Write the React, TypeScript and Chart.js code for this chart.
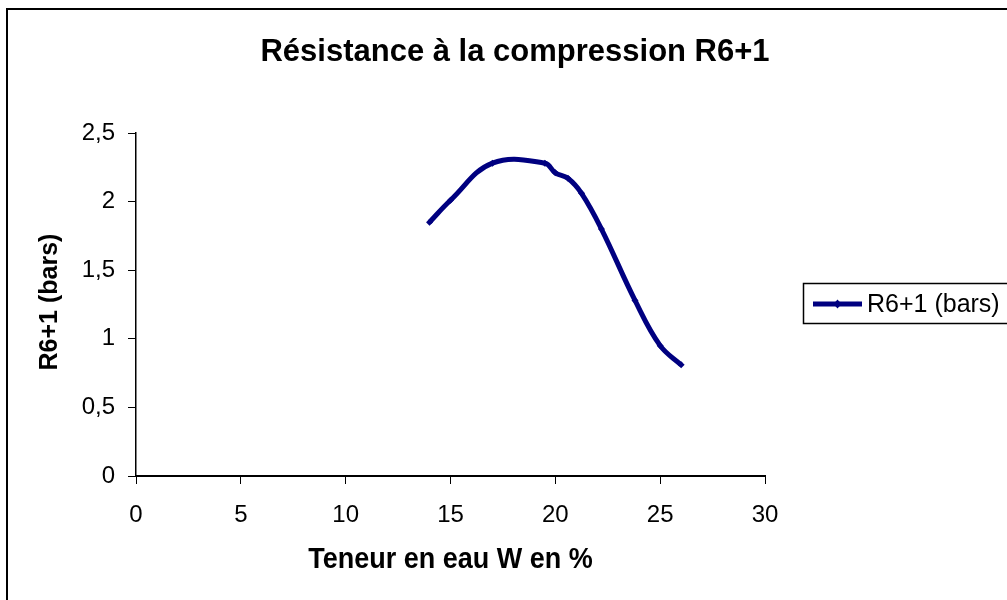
import React, { useEffect, useRef } from "react";
import { Chart, registerables } from "chart.js";

Chart.register(...registerables);

const waterContent = [14, 15, 17, 19.5, 20, 20.6, 21.25, 22.2, 23.8, 25, 26];
const strength = [1.85, 2.01, 2.28, 2.28, 2.21, 2.17, 2.06, 1.8, 1.28, 0.95, 0.81];
const xTicks = [0, 5, 10, 15, 20, 25, 30];
const yTickLabels = ["0", "0,5", "1", "1,5", "2", "2,5"];
const seriesLabel = "R6+1 (bars)";
const chartTitle = "Résistance à la compression R6+1";
const xTitle = "Teneur en eau W en %";
const yTitle = "R6+1 (bars)";

const FONT = "'Liberation Sans', Arial, sans-serif";
const NAVY = "#000080";

const decorations = {
  id: "decorations",
  afterDraw(chart: any) {
    const ctx = chart.ctx;
    const area = chart.chartArea;
    ctx.save();
    // outer frame (only top/left edges are inside the picture)
    ctx.strokeStyle = "#000";
    ctx.lineWidth = 2;
    ctx.beginPath();
    ctx.moveTo(7, 620);
    ctx.lineTo(7, 9);
    ctx.lineTo(1030, 9);
    ctx.stroke();

    // title
    ctx.fillStyle = "#000";
    ctx.textAlign = "center";
    ctx.textBaseline = "alphabetic";
    ctx.font = `bold 31px ${FONT}`;
    ctx.fillText(chartTitle, 515, 61);

    // x title
    ctx.save();
    ctx.font = `bold 27px ${FONT}`;
    ctx.translate((area.left + area.right) / 2, 568);
    ctx.scale(1, 1.1);
    ctx.fillText(xTitle, 0, 0);
    ctx.restore();

    // y title
    ctx.save();
    ctx.textBaseline = "middle";
    ctx.font = `bold 25px ${FONT}`;
    ctx.translate(50, 302);
    ctx.rotate(-Math.PI / 2);
    ctx.fillText(yTitle, 0, 0);
    ctx.restore();

    // legend
    ctx.lineWidth = 1.5;
    ctx.strokeStyle = "#000";
    ctx.strokeRect(803.5, 283.5, 240, 40);
    ctx.strokeStyle = NAVY;
    ctx.lineWidth = 5;
    ctx.beginPath();
    ctx.moveTo(813, 304);
    ctx.lineTo(862, 304);
    ctx.stroke();
    ctx.fillStyle = NAVY;
    ctx.beginPath();
    ctx.moveTo(837.5, 299.5);
    ctx.lineTo(841.5, 304);
    ctx.lineTo(837.5, 308.5);
    ctx.lineTo(833.5, 304);
    ctx.closePath();
    ctx.fill();
    ctx.fillStyle = "#000";
    ctx.textAlign = "left";
    ctx.textBaseline = "middle";
    ctx.font = `25px ${FONT}`;
    ctx.fillText(seriesLabel, 867, 305);
    ctx.restore();
  },
};

export default function App() {
  const ref = useRef<HTMLCanvasElement>(null);
  useEffect(() => {
    if (!ref.current) return;
    const chart = new Chart(ref.current, {
      type: "line",
      data: {
        datasets: [
          {
            label: seriesLabel,
            data: waterContent.map((x, i) => ({ x, y: strength[i] })),
            borderColor: NAVY,
            backgroundColor: NAVY,
            borderWidth: 5,
            tension: 0.4,
            pointStyle: "rectRot",
            pointRadius: 3.5,
            pointBorderWidth: 0,
            fill: false,
          },
        ],
      },
      plugins: [decorations],
      options: {
        animation: false,
        responsive: false,
        devicePixelRatio: 1,
        layout: { padding: { left: 0, top: 133, right: 242, bottom: 0 } },
        plugins: {
          legend: { display: false },
          title: { display: false },
          tooltip: { enabled: false },
        },
        scales: {
          x: {
            type: "linear",
            min: xTicks[0],
            max: xTicks[xTicks.length - 1],
            afterBuildTicks: (s: any) => {
              s.ticks = xTicks.map((v) => ({ value: v }));
            },
            ticks: {
              color: "#000",
              font: { family: FONT, size: 24 },
              padding: 17,
              maxRotation: 0,
              autoSkip: false,
            },
            grid: {
              display: true,
              drawOnChartArea: false,
              drawTicks: true,
              tickLength: 8,
              color: "#000",
              lineWidth: 1,
            },
            border: { display: true, color: "#000", width: 2 },
            afterFit: (s: any) => {
              s.height = 124;
            },
          },
          y: {
            type: "linear",
            min: 0,
            max: 2.5,
            ticks: {
              stepSize: 0.5,
              color: "#000",
              font: { family: FONT, size: 24 },
              padding: 13,
              autoSkip: false,
              callback: (_v: any, i: number) => yTickLabels[i],
            },
            grid: {
              display: true,
              drawOnChartArea: false,
              drawTicks: true,
              tickLength: 8,
              color: "#000",
              lineWidth: 1,
            },
            border: { display: true, color: "#000", width: 1.5 },
            afterFit: (s: any) => {
              s.width = 136;
            },
          },
        },
      },
    });
    return () => chart.destroy();
  }, []);
  return (
    <div style={{ position: "absolute", left: 0, top: 0, width: 1007, height: 600, background: "#fff" }}>
      <canvas ref={ref} width={1007} height={600} style={{ width: 1007, height: 600 }} />
    </div>
  );
}
